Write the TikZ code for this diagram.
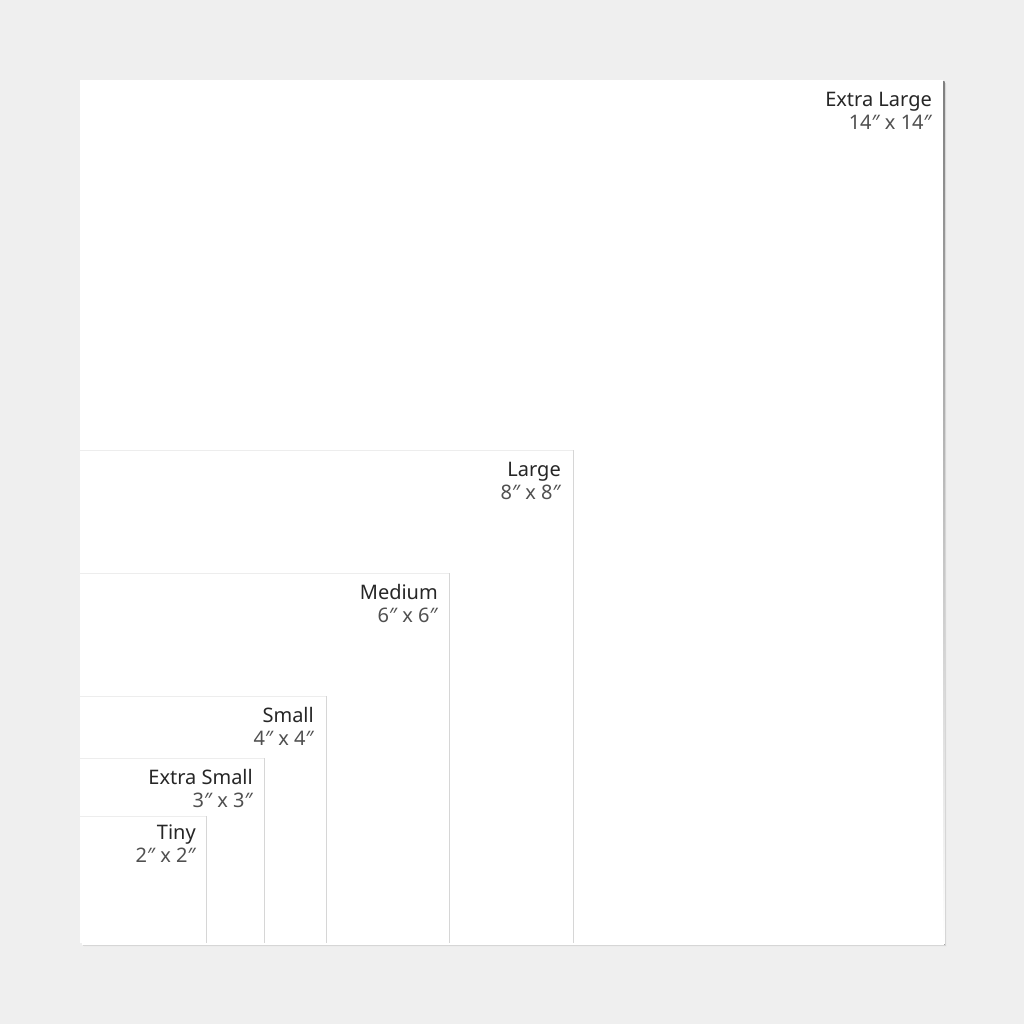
\documentclass[tikz,border=0pt]{standalone}
\usepackage{fontspec}
\setmainfont{Noto Sans}
\definecolor{paper}{HTML}{EFEFEF}
\definecolor{shade}{HTML}{B5B5B5}
\definecolor{rimgray}{HTML}{D6D6D6}
\definecolor{topgray}{HTML}{EDEDED}
\definecolor{namegray}{HTML}{262626}
\definecolor{dimgray}{HTML}{505050}
\tikzset{
  sizename/.style={anchor=base east, inner sep=0pt, text=namegray,
    font=\fontsize{20}{24}\selectfont},
  sizedim/.style={anchor=base east, inner sep=0pt, text=dimgray,
    font=\fontsize{20}{24}\selectfont},
  rim/.style={draw=rimgray, line width=1pt},
  toprim/.style={draw=topgray, line width=1pt}
}
\begin{document}
\begin{tikzpicture}[x=1pt,y=-1pt]
  % paper and outer square
  \fill[paper] (0,0) rectangle (1024,1024);
  \useasboundingbox (0,0) rectangle (1024,1024);
  \fill[shade!25] (84,84) rectangle (947,947);
  \fill[shade!55] (83,83) rectangle (945.5,945.5);
  \fill[shade] (82,82) rectangle (944.5,944.5);
  \fill[white] (80,80) rectangle (943,943);

  % inner squares, largest first
  \draw[toprim] (80,450) -- (573,450);
  \draw[rim] (573,450) -- (573,943);
  \draw[toprim] (80,573) -- (449,573);
  \draw[rim] (449,573) -- (449,943);
  \draw[toprim] (80,696) -- (326,696);
  \draw[rim] (326,696) -- (326,943);
  \draw[toprim] (80,758) -- (264,758);
  \draw[rim] (264,758) -- (264,943);
  \draw[toprim] (80,816) -- (206,816);
  \draw[rim] (206,816) -- (206,943);

  % labels
  \node[sizename] (xlname) at (932,107) {Extra Large};
  \node[sizedim] (xldim) at (932,130) {14″ x 14″};
  \node[sizename] (lname) at (561,476) {Large};
  \node[sizedim] (ldim) at (561,499) {8″ x 8″};
  \node[sizename] (mname) at (438,599) {Medium};
  \node[sizedim] (mdim) at (438,622) {6″ x 6″};
  \node[sizename] (sname) at (314,722) {Small};
  \node[sizedim] (sdim) at (314,745) {4″ x 4″};
  \node[sizename] (xsname) at (253,784) {Extra Small};
  \node[sizedim] (xsdim) at (253,807) {3″ x 3″};
  \node[sizename] (tname) at (196,839) {Tiny};
  \node[sizedim] (tdim) at (196,862) {2″ x 2″};
\end{tikzpicture}
\end{document}
